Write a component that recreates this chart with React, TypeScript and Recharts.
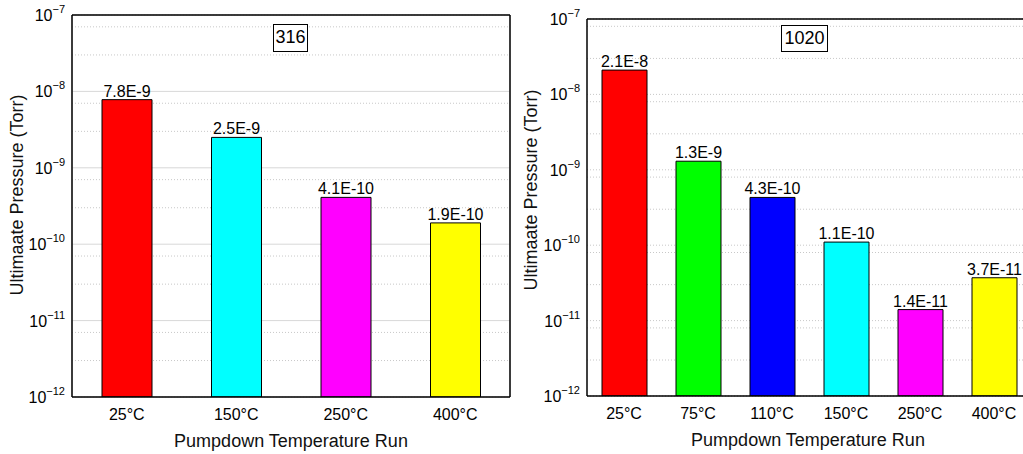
import React from 'react';
import { BarChart, Bar, XAxis, YAxis, CartesianGrid, LabelList, Cell } from 'recharts';

const leftCategories = ['25°C', '150°C', '250°C', '400°C'];
const leftValues = [7.8e-9, 2.5e-9, 4.1e-10, 1.9e-10];
const leftColors = ['#ff0000', '#00ffff', '#ff00ff', '#ffff00'];

const rightCategories = ['25°C', '75°C', '110°C', '150°C', '250°C', '400°C'];
const rightValues = [2.1e-8, 1.3e-9, 4.3e-10, 1.1e-10, 1.4e-11, 3.7e-11];
const rightColors = ['#ff0000', '#00ff00', '#0000ff', '#00ffff', '#ff00ff', '#ffff00'];

const decadeTicks = [1e-12, 1e-11, 1e-10, 1e-9, 1e-8, 1e-7];
const minorMultipliers = [2, 3, 4, 5, 6, 7, 8, 9];
const leftGridMultipliers = [2, 3, 5, 7];
const rightGridMultipliers = [2, 3, 4, 6, 8];

const FONT = '"Liberation Sans", Arial, sans-serif';
const DOMAIN: [number, number] = [1e-12, 1e-7];

const multiplesOf = (mults: number[]) =>
  decadeTicks.slice(0, -1).flatMap((d) => mults.map((m) => m * d));

const fmt = (v: any) => Number(v).toExponential(1).toUpperCase().replace('E+', 'E');

function PowerTick(props: any) {
  const { x, y, payload } = props;
  const exp = Math.round(Math.log10(payload.value));
  return (
    <text x={x} y={y} textAnchor="end" fontFamily={FONT} fill="#000">
      <tspan dy={6} fontSize={16}>10</tspan>
      <tspan dy={-8} fontSize={11}>{'\u2212' + Math.abs(exp)}</tspan>
    </text>
  );
}

function CatTick(props: any) {
  const { x, y, payload } = props;
  return (
    <text x={x} y={y} dy={13} textAnchor="middle" fontFamily={FONT} fontSize={16} fill="#000">
      {payload.value}
    </text>
  );
}

interface PanelProps {
  categories: string[];
  values: number[];
  colors: string[];
  gridMultipliers: number[];
  solidGrid: boolean;
  width: number;
  height: number;
  margin: { top: number; right: number; bottom: number; left: number };
  barSize: number;
}

function Panel({ categories, values, colors, gridMultipliers, solidGrid, width, height, margin, barSize }: PanelProps) {
  const n = categories.length;
  const data = categories.map((c, i) => ({ name: c, value: values[i], pos: i + 0.5 }));
  const centers = categories.map((_, i) => i + 0.5);
  const bounds = categories.slice(1).map((_, i) => i + 1);
  const minor = multiplesOf(minorMultipliers);
  const gridMinor = multiplesOf(gridMultipliers);
  const axisLine = { stroke: '#000', strokeWidth: 1.5 };
  const tickLine = { stroke: '#000', strokeWidth: 1.5 };
  const thinTick = { stroke: '#000', strokeWidth: 1 };

  return (
    <BarChart width={width} height={height} data={data} margin={margin}>
      <CartesianGrid
        xAxisId="xMajor"
        yAxisId="gridMinor"
        vertical={false}
        stroke="#c8c8c8"
        strokeDasharray="1 2"
      />
      {solidGrid ? (
        <CartesianGrid xAxisId="xMajor" yAxisId="main" stroke="#d8d8d8" />
      ) : (
        <CartesianGrid xAxisId="xMajor" yAxisId="main" vertical={false} stroke="#c8c8c8" strokeDasharray="1 2" />
      )}

      <XAxis
        xAxisId="cat"
        dataKey="name"
        height={30}
        axisLine={axisLine}
        tickLine={false}
        tickMargin={4}
        tick={<CatTick />}
        interval={0}
      />
      <XAxis xAxisId="xMajor" type="number" dataKey="pos" domain={[0, n]} allowDataOverflow ticks={centers}
        mirror height={1} tick={false} axisLine={false} tickLine={tickLine} tickSize={6} />
      <XAxis xAxisId="xMinor" type="number" dataKey="pos" domain={[0, n]} allowDataOverflow ticks={bounds}
        mirror height={1} tick={false} axisLine={false} tickLine={thinTick} tickSize={3} />
      <XAxis xAxisId="topMajor" orientation="top" type="number" dataKey="pos" domain={[0, n]} allowDataOverflow ticks={centers}
        mirror height={1} tick={false} axisLine={axisLine} tickLine={tickLine} tickSize={6} />
      <XAxis xAxisId="topMinor" orientation="top" type="number" dataKey="pos" domain={[0, n]} allowDataOverflow ticks={bounds}
        mirror height={1} tick={false} axisLine={false} tickLine={thinTick} tickSize={3} />

      <YAxis yAxisId="gridMinor" scale="log" domain={DOMAIN} allowDataOverflow ticks={gridMinor} hide width={0} />
      <YAxis
        yAxisId="main"
        scale="log"
        domain={DOMAIN}
        allowDataOverflow
        ticks={decadeTicks}
        width={60}
        axisLine={axisLine}
        tickLine={false}
        tickSize={6}
        tickMargin={1}
        tick={<PowerTick />}
      />
      <YAxis yAxisId="leftMajor" scale="log" domain={DOMAIN} allowDataOverflow ticks={decadeTicks}
        mirror width={1} tick={false} axisLine={false} tickLine={tickLine} tickSize={6} />
      <YAxis yAxisId="leftMinor" scale="log" domain={DOMAIN} allowDataOverflow ticks={minor}
        mirror width={1} tick={false} axisLine={false} tickLine={thinTick} tickSize={3} />
      <YAxis yAxisId="rightMajor" orientation="right" scale="log" domain={DOMAIN} allowDataOverflow ticks={decadeTicks}
        mirror width={1} tick={false} axisLine={axisLine} tickLine={tickLine} tickSize={6} />
      <YAxis yAxisId="rightMinor" orientation="right" scale="log" domain={DOMAIN} allowDataOverflow ticks={minor}
        mirror width={1} tick={false} axisLine={false} tickLine={thinTick} tickSize={3} />

      <Bar
        dataKey="value"
        xAxisId="cat"
        yAxisId="main"
        barSize={barSize}
        stroke="#000"
        strokeWidth={1}
        isAnimationActive={false}
      >
        {data.map((d, i) => (
          <Cell key={d.name} fill={colors[i]} />
        ))}
        <LabelList dataKey="value" position="top" offset={3} formatter={fmt}
          style={{ fontSize: 16, fill: '#000', fontFamily: FONT }} />
      </Bar>
    </BarChart>
  );
}

const abs = (left: number, top: number): React.CSSProperties => ({ position: 'absolute', left, top });

const titleStyle: React.CSSProperties = {
  position: 'absolute',
  fontFamily: FONT,
  fontSize: 18,
  color: '#111',
  whiteSpace: 'nowrap',
  transform: 'translate(-50%, -50%)',
};

const boxStyle: React.CSSProperties = {
  position: 'absolute',
  border: '1px solid #000',
  background: '#fff',
  fontFamily: FONT,
  fontSize: 18,
  lineHeight: '25px',
  textAlign: 'center',
  boxSizing: 'border-box',
};

export default function App() {
  return (
    <div style={{ position: 'absolute', left: 0, top: 0, width: 1023, height: 454, overflow: 'hidden', background: '#fff' }}>
      <div style={abs(0, 0)}>
        <Panel
          categories={leftCategories}
          values={leftValues}
          colors={leftColors}
          gridMultipliers={leftGridMultipliers}
          solidGrid
          width={520}
          height={454}
          margin={{ top: 15, right: 10, bottom: 27, left: 12 }}
          barSize={50}
        />
      </div>
      <div style={abs(500, 0)}>
        <Panel
          categories={rightCategories}
          values={rightValues}
          colors={rightColors}
          gridMultipliers={rightGridMultipliers}
          solidGrid={false}
          width={540}
          height={454}
          margin={{ top: 19, right: 9, bottom: 28, left: 27 }}
          barSize={45}
        />
      </div>

      <div style={{ ...titleStyle, left: 17, top: 195, transform: 'translate(-50%, -50%) rotate(-90deg)' }}>
        Ultimaate Pressure (Torr)
      </div>
      <div style={{ ...titleStyle, left: 531, top: 190, transform: 'translate(-50%, -50%) rotate(-90deg)' }}>
        Ultimaate Pressure (Torr)
      </div>
      <div style={{ ...titleStyle, left: 291, top: 441 }}>Pumpdown Temperature Run</div>
      <div style={{ ...titleStyle, left: 808, top: 440 }}>Pumpdown Temperature Run</div>

      <div style={{ ...boxStyle, left: 273, top: 24, width: 35, height: 28 }}>316</div>
      <div style={{ ...boxStyle, left: 781, top: 25, width: 47, height: 27 }}>1020</div>
    </div>
  );
}
